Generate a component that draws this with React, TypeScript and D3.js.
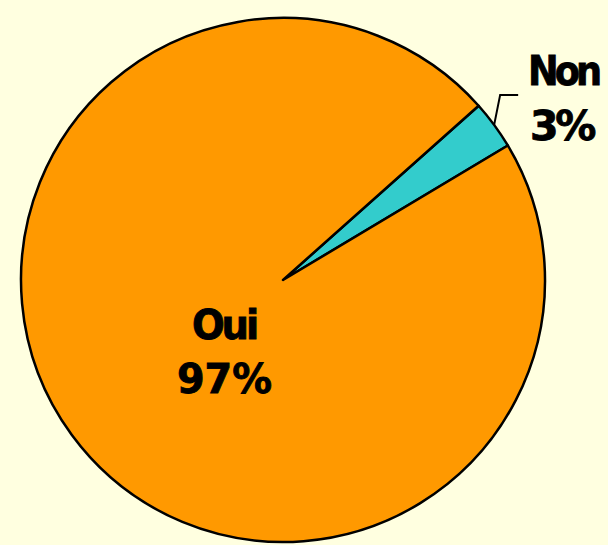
import React from "react";
import * as d3 from "d3";

const width = 608;
const height = 545;

const categories = ["Non", "Oui"];
const values = [3, 97];
const labels = ["3%", "97%"];
const colors = ["#33CCCC", "#FF9900"];

const cx = 283;
const cy = 280;
const radius = 262;
const startDeg = 48.3;

export default function App() {
  const pie = d3
    .pie<number>()
    .sort(null)
    .startAngle((startDeg * Math.PI) / 180)
    .endAngle((startDeg * Math.PI) / 180 + 2 * Math.PI);
  const arcs = pie(values);
  const arc = d3.arc<d3.PieArcDatum<number>>().innerRadius(0).outerRadius(radius);

  // leader line for the small slice
  const non = arcs[0];
  const mid = (non.startAngle + non.endAngle) / 2;
  const px = cx + radius * Math.sin(mid);
  const py = cy - radius * Math.cos(mid);

  const fontStyle = {
    fontFamily: "'DejaVu Sans Condensed', 'DejaVu Sans', sans-serif",
    fontWeight: "bold" as const,
    fontSize: 41,
  };

  return (
    <svg
      width={width}
      height={height}
      style={{ position: "absolute", left: 0, top: 0 }}
    >
      <rect width={width} height={height} fill="#FFFFE0" />
      <g transform={`translate(${cx},${cy})`}>
        {arcs.map((a, i) => (
          <path
            key={categories[i]}
            d={arc(a) || ""}
            fill={colors[i]}
            stroke="#000"
            strokeWidth={2.5}
            strokeLinejoin="round"
          />
        ))}
      </g>
      <polyline
        points={`${px},${py} ${px + 6},${py - 30} ${px + 24},${py - 30}`}
        fill="none"
        stroke="#000"
        strokeWidth={2}
      />
      <g style={fontStyle} fill="#000" stroke="#000" strokeWidth={0.8}>
        <text x={528} y={85} letterSpacing={-4} textLength={70} lengthAdjust="spacingAndGlyphs">{categories[0]}</text>
        <text x={530} y={140} letterSpacing={-3} textLength={63} lengthAdjust="spacingAndGlyphs">{labels[0]}</text>
        <text x={192} y={339} letterSpacing={-3} textLength={64} lengthAdjust="spacingAndGlyphs">{categories[1]}</text>
        <text x={177} y={393} textLength={95} lengthAdjust="spacingAndGlyphs">{labels[1]}</text>
      </g>
    </svg>
  );
}
